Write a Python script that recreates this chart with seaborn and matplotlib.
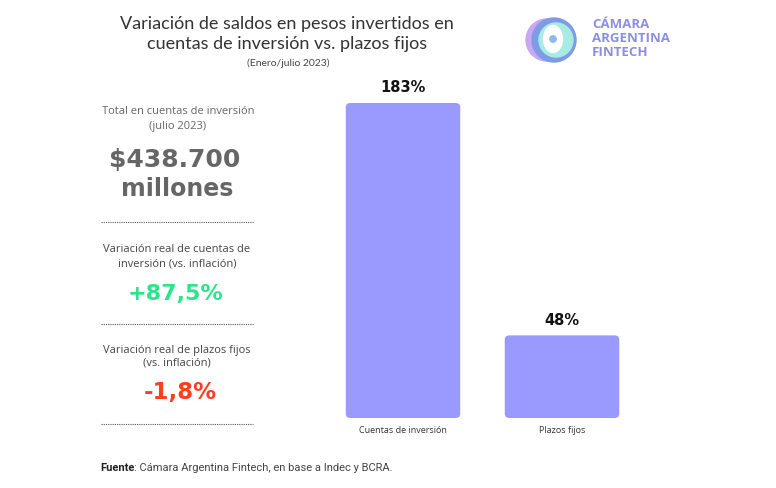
import matplotlib
matplotlib.use("Agg")
import matplotlib.pyplot as plt
import seaborn as sns
import pandas as pd
from matplotlib.patches import Circle, FancyBboxPatch, Ellipse

categories = ["Cuentas de inversión", "Plazos fijos"]
values = [183, 48]
value_labels = ["183%", "48%"]

title_lines = ["Variación de saldos en pesos invertidos en", "cuentas de inversión vs. plazos fijos"]
subtitle = "(Enero/julio 2023)"
total_label = ["Total en cuentas de inversión", "(julio 2023)"]
total_value = ["$438.700", "millones"]
var_inv_label = ["Variación real de cuentas de", "inversión (vs. inflación)"]
var_inv_value = "+87,5%"
var_pf_label = ["Variación real de plazos fijos", "(vs. inflación)"]
var_pf_value = "-1,8%"
logo_text = ["CÁMARA", "ARGENTINA", "FINTECH"]
source_bold = "Fuente"
source_rest = ": Cámara Argentina Fintech, en base a Indec y BCRA."

sns.set_theme(style="white")
plt.rcParams["font.family"] = ["Open Sans", "DejaVu Sans"]

W, H = 776, 488
fig = plt.figure(figsize=(W / 100, H / 100), dpi=100)

def fx(x):
    return x / W

def fy(y):
    return 1 - y / H

BIG = ["DejaVu Sans"]

# Bar axes
left, right = 323.5, 641.5
base, top = 418, 418 - 200 * (315 / 183)
ax = fig.add_axes([fx(left), fy(base), fx(right - left), (base - top) / H])
df = pd.DataFrame({"cat": categories, "val": values})
sns.barplot(data=df, x="cat", y="val", color="#9a99fe", saturation=1, width=0.72, ax=ax)
ax.set_xlim(-0.5, 1.5)
ax.set_ylim(0, 200)
for p in list(ax.patches):
    x0, y0, w, h = p.get_x(), p.get_y(), p.get_width(), p.get_height()
    p.set_visible(False)
    rb = FancyBboxPatch((x0, y0), w, h, boxstyle="round,pad=0,rounding_size=0.03",
                        mutation_aspect=200 / 2 * (318 / 344) * 0.9, fc="#9a99fe", ec="none")
    ax.add_patch(rb)
for i, (v, lab) in enumerate(zip(values, value_labels)):
    ax.text(i, v + 4.5, lab, ha="center", va="bottom", fontsize=10.5, fontweight="bold",
            color="#111111", family=BIG)
for s in ax.spines.values():
    s.set_visible(False)
ax.set_xlabel("")
ax.set_ylabel("")
ax.set_yticks([])
ax.tick_params(axis="x", length=0, pad=6, labelsize=6.5, labelcolor="#333333")

# Title
TF = ["Lato", "DejaVu Sans"]
fig.text(fx(287), fy(24), title_lines[0], ha="center", va="center", fontsize=13, color="#333333", family=TF)
fig.text(fx(287), fy(44), title_lines[1], ha="center", va="center", fontsize=13, color="#333333", family=TF)
fig.text(fx(288), fy(63), subtitle, ha="center", va="center", fontsize=7.5, color="#444444", family=TF)

# Left panel
cx = 177
gray = "#666666"
fig.text(fx(178), fy(111), total_label[0], ha="center", va="center", fontsize=8, color=gray)
fig.text(fx(178), fy(126), total_label[1], ha="center", va="center", fontsize=8, color=gray)
fig.text(fx(175), fy(160), total_value[0], ha="center", va="center", fontsize=18, fontweight="bold",
         color=gray, family=BIG)
fig.text(fx(177), fy(189), total_value[1], ha="center", va="center", fontsize=17, fontweight="bold",
         color=gray, family=BIG)
fig.text(fx(cx), fy(250), var_inv_label[0], ha="center", va="center", fontsize=8, color="#444444")
fig.text(fx(cx), fy(264), var_inv_label[1], ha="center", va="center", fontsize=8, color="#444444")
fig.text(fx(176), fy(294), var_inv_value, ha="center", va="center", fontsize=16, fontweight="bold",
         color="#2de38b", family=BIG)
fig.text(fx(cx), fy(350), var_pf_label[0], ha="center", va="center", fontsize=8, color="#444444")
fig.text(fx(cx), fy(363), var_pf_label[1], ha="center", va="center", fontsize=8, color="#444444")
fig.text(fx(180), fy(392), var_pf_value, ha="center", va="center", fontsize=16.5, fontweight="bold",
         color="#ff3d1f", family=BIG)
for yy in [222, 324, 424]:
    fig.add_artist(plt.Line2D([fx(101), fx(253)], [fy(yy), fy(yy)], color="#555555",
                              linewidth=0.8, linestyle=(0, (1, 1))))

# Footer
SF = ["Roboto", "DejaVu Sans"]
t = fig.text(fx(100), fy(468), source_bold, ha="left", va="center", fontsize=8, fontweight="bold",
             color="#222222", family=SF)
fig.canvas.draw()
bb = t.get_window_extent()
fig.text(bb.x1 / W, fy(468), source_rest, ha="left", va="center", fontsize=8, color="#444444", family=SF)

# Logo
lax = fig.add_axes([fx(522), fy(66), fx(56), 52 / H])
lax.set_xlim(-28, 28)
lax.set_ylim(-26, 26)
lax.set_aspect("equal")
lax.axis("off")
lax.add_patch(Circle((-3, 0), 21, color="#c8a8f3"))
lax.add_patch(Circle((4, 0), 22, color="#7f9be6"))
lax.add_patch(Circle((6, 0), 17, color="#a6ece2"))
lax.add_patch(Ellipse((3, 1), 19, 27, color="white"))
lax.add_patch(Circle((3, 1), 3.2, color="#8fb8ef"))
for i, tx in enumerate(logo_text):
    fig.text(fx(592), fy(25 + 13.5 * i), tx, ha="left", va="center", fontsize=9.5, fontweight="bold",
             color="#8b8ee3")

fig.savefig("out.png", dpi=100, facecolor="white")
